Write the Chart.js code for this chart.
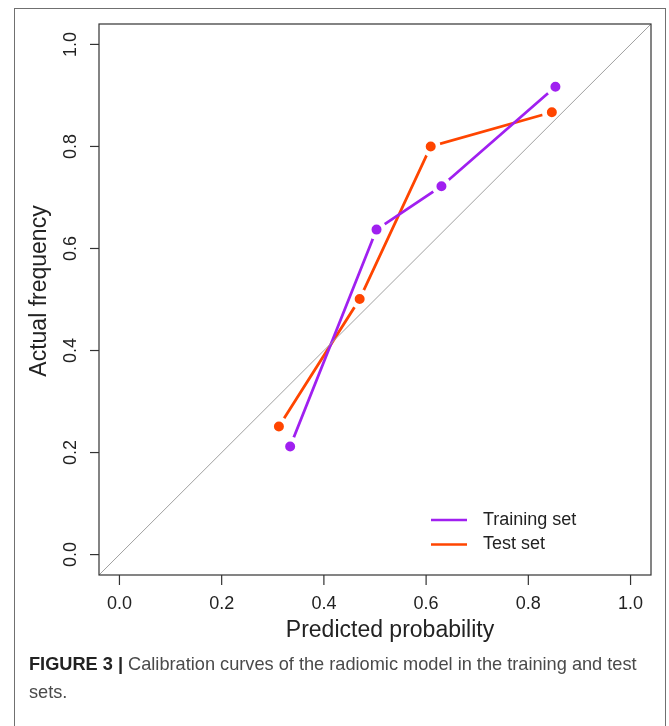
<!DOCTYPE html>
<html>
<head>
<meta charset="utf-8">
<script src="https://cdn.jsdelivr.net/npm/chart.js@4.4.0/dist/chart.umd.min.js"></script>
<style>
  html, body { margin: 0; padding: 0; background: #fff; }
  #wrap { position: relative; width: 669px; height: 726px; overflow: hidden; }
  #frame { position: absolute; left: 14px; top: 8px; width: 650px; height: 780px; border: 1.5px solid #707070; }
  #c { position: absolute; left: 0; top: 0; }
  #caption {
    position: absolute; left: 29px; top: 650px; width: 630px; white-space: nowrap;
    font: 18.2px "Liberation Sans", Arial, sans-serif; color: #4a4a4a; line-height: 28px;
  }
  #caption b { color: #222; }
</style>
</head>
<body>
<div id="wrap">
  <div id="frame"></div>
  <canvas id="c" width="669" height="726"></canvas>
  <div id="caption"><b>FIGURE 3 |</b> Calibration curves of the radiomic model in the training and test<br>sets.</div>
</div>
<script>
// values
const tickVals   = [0, 0.2, 0.4, 0.6, 0.8, 1.0];
const tickLabels = ['0.0', '0.2', '0.4', '0.6', '0.8', '1.0'];

const trainX = [0.334, 0.503, 0.630, 0.853];
const trainY = [0.212, 0.637, 0.722, 0.917];
const testX  = [0.312, 0.470, 0.609, 0.846];
const testY  = [0.251, 0.501, 0.800, 0.867];

const refLine = [-0.04, 1.04];   // ideal calibration y = x
const seriesNames  = ['Training set', 'Test set'];
const seriesColors = ['#A020F0', '#FF4500'];

const FONT = '"Liberation Sans", Arial, Helvetica, sans-serif';

const toPts = (xs, ys) => xs.map((v, i) => ({ x: v, y: ys[i] }));

// box, ticks, axis titles, legend (R base-graphics look)
const decor = {
  id: 'decor',
  afterDatasetsDraw(chart) {
    const { ctx, chartArea: a, scales: { x, y } } = chart;
    ctx.save();
    ctx.strokeStyle = '#333';
    ctx.lineWidth = 1.2;
    ctx.strokeRect(a.left, a.top, a.right - a.left, a.bottom - a.top);

    ctx.fillStyle = '#222';
    ctx.font = '18px ' + FONT;
    ctx.textAlign = 'center';
    ctx.textBaseline = 'middle';
    tickVals.forEach((v, i) => {
      const px = x.getPixelForValue(v);
      ctx.beginPath(); ctx.moveTo(px, a.bottom); ctx.lineTo(px, a.bottom + 10); ctx.stroke();
      ctx.fillText(tickLabels[i], px, a.bottom + 29);

      const py = y.getPixelForValue(v);
      ctx.beginPath(); ctx.moveTo(a.left, py); ctx.lineTo(a.left - 9, py); ctx.stroke();
      ctx.save();
      ctx.translate(a.left - 28, py);
      ctx.rotate(-Math.PI / 2);
      ctx.fillText(tickLabels[i], 0, 0);
      ctx.restore();
    });

    ctx.font = '23px ' + FONT;
    ctx.fillText('Predicted probability', 390, a.bottom + 56);
    ctx.save();
    ctx.translate(40, 291);
    ctx.rotate(-Math.PI / 2);
    ctx.fillText('Actual frequency', 0, 0);
    ctx.restore();

    // legend
    ctx.font = '18px ' + FONT;
    ctx.textAlign = 'left';
    ctx.lineWidth = 2.5;
    seriesNames.forEach((name, i) => {
      const ly = 520 + i * 24.5;
      ctx.strokeStyle = seriesColors[i];
      ctx.beginPath(); ctx.moveTo(431, ly); ctx.lineTo(467, ly); ctx.stroke();
      ctx.fillStyle = '#222';
      ctx.fillText(name, 483, ly);
    });
    ctx.restore();
  },
};

const lineSet = (i, xs, ys, order) => ({
  label: seriesNames[i],
  data: toPts(xs, ys),
  showLine: true,
  borderColor: seriesColors[i],
  borderWidth: 2.8,
  pointRadius: 7.5,
  pointBackgroundColor: seriesColors[i],
  pointBorderColor: '#fff',     // white ring gives the R type="b" gaps
  pointBorderWidth: 5,
  order,
});

new Chart(document.getElementById('c'), {
  type: 'scatter',
  data: {
    datasets: [
      {
        data: toPts(refLine, refLine),
        showLine: true,
        borderColor: '#a0a0a0',
        borderWidth: 1,
        pointRadius: 0,
        order: 0,
      },
      lineSet(0, trainX, trainY, 1),
      lineSet(1, testX, testY, 2),
    ],
  },
  options: {
    responsive: false,
    animation: false,
    events: [],
    layout: { padding: { left: 99, top: 24, right: 18, bottom: 151 } },
    plugins: { legend: { display: false }, tooltip: { enabled: false } },
    scales: {
      x: { type: 'linear', min: -0.04, max: 1.04, display: false },
      y: { type: 'linear', min: -0.04, max: 1.04, display: false },
    },
  },
  plugins: [decor],
});
</script>
</body>
</html>
